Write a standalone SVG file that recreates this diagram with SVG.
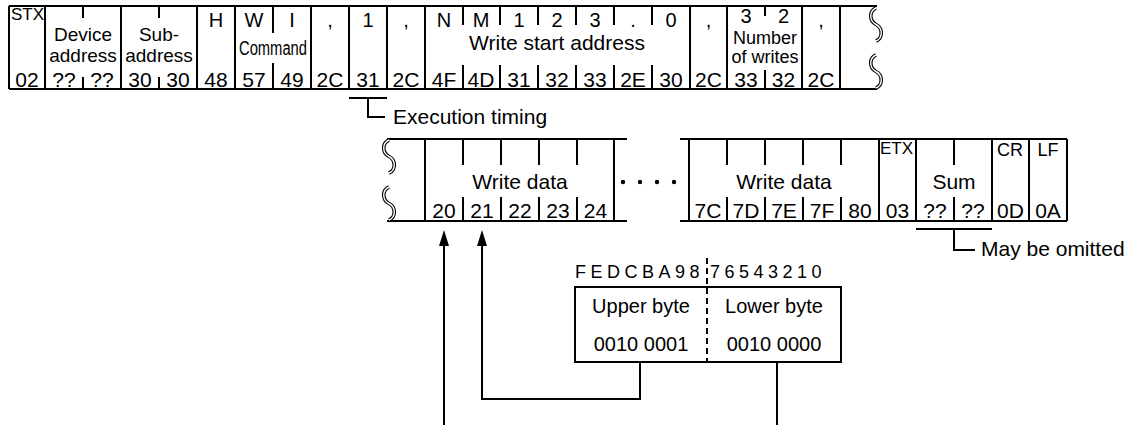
<svg xmlns="http://www.w3.org/2000/svg" width="1135" height="425" viewBox="0 0 1135 425">
<style>
text { font-family: "Liberation Sans", Arial, sans-serif; font-size: 20px; fill: #000; text-anchor: middle; }
.ln { stroke: #000; stroke-width: 2; fill: none; }
.sm { font-size: 17px; text-anchor: start; }
.lab { font-size: 21px; }
.hx { font-size: 21px; }
.st { text-anchor: start; }
.s18 { font-size: 18px; }
.s19 { font-size: 19px; }
.bits { font-size: 18px; text-anchor: start; letter-spacing: 4.5px; }
.sq1 { stroke: #000; stroke-width: 3.6; fill: none; }
.sq2 { stroke: #fff; stroke-width: 1.4; fill: none; }
.dash { stroke-dasharray: 6 4; }
</style>
<defs>
<path id="wave" d="M0,0 C-7,3 -7,13 0,16.5 C7,20 7,30 0,33"/>
<marker id="ah" viewBox="0 0 16 10" refX="10" refY="5" markerWidth="16" markerHeight="10" markerUnits="userSpaceOnUse" orient="auto">
<path d="M0,0 L16,5 L0,10 Z" fill="#000"/>
</marker>
</defs>
<rect width="1135" height="425" fill="#fff"/>

<g id="frame-header">
<path class="ln" d="M9,6 H877 M9,89 H877"/>
<path class="ln" d="M9,6 V89 M45,6 V89 M121,6 V89 M197,6 V89 M235,6 V89 M311,6 V89 M349,6 V89 M387,6 V89 M425,6 V89 M690,6 V89 M727,6 V89 M802,6 V89 M840,6 V89"/>
<path class="ln" d="M83,6 V18 M83,77 V89 M159,6 V18 M159,77 V89 M273,6 V33 M273,63 V89 M463,6 V25 M463,65 V89 M500,6 V25 M500,65 V89 M538,6 V25 M538,65 V89 M576,6 V25 M576,65 V89 M614,6 V25 M614,65 V89 M652,6 V25 M652,65 V89 M765,6 V16 M765,70 V89"/>
<use href="#wave" class="sq1" x="876" y="8"/><use href="#wave" class="sq2" x="876" y="8"/>
<use href="#wave" class="sq1" x="876" y="55"/><use href="#wave" class="sq2" x="876" y="55"/>
<text class="sm" x="11" y="20">STX</text>
<text class="s19" x="83" y="41">Device</text><text class="s19" x="83" y="62">address</text>
<text class="s19" x="159" y="41">Sub-</text><text class="s19" x="159" y="62">address</text>
<text x="216" y="27">H</text><text x="254" y="27">W</text><text x="292" y="27">I</text>
<text x="273" y="55" font-size="18" textLength="68" lengthAdjust="spacingAndGlyphs">Command</text>
<text x="330" y="27">,</text><text x="368" y="27">1</text><text x="406" y="27">,</text>
<text x="444" y="27">N</text><text x="481" y="27">M</text><text x="519" y="27">1</text><text x="557" y="27">2</text><text x="595" y="27">3</text><text x="633" y="27">.</text><text x="671" y="27">0</text><text x="708.5" y="27">,</text><text x="746" y="23">3</text><text x="783.5" y="23">2</text><text x="821" y="27">,</text>
<text class="lab" x="557" y="50">Write start address</text>
<text class="s18" x="765" y="44">Number</text><text class="s18" x="765" y="63">of writes</text>
<g class="hx">
<text class="hx" x="27" y="87">02</text><text class="hx" x="64" y="87">??</text><text class="hx" x="102" y="87">??</text><text class="hx" x="140" y="87">30</text><text class="hx" x="178" y="87">30</text><text class="hx" x="216" y="87">48</text><text class="hx" x="254" y="87">57</text><text class="hx" x="292" y="87">49</text><text class="hx" x="330" y="87">2C</text><text class="hx" x="368" y="87">31</text><text class="hx" x="406" y="87">2C</text><text class="hx" x="444" y="87">4F</text><text class="hx" x="481" y="87">4D</text><text class="hx" x="519" y="87">31</text><text class="hx" x="557" y="87">32</text><text class="hx" x="595" y="87">33</text><text class="hx" x="633" y="87">2E</text><text class="hx" x="671" y="87">30</text><text class="hx" x="708.5" y="87">2C</text><text class="hx" x="746" y="87">33</text><text class="hx" x="783.5" y="87">32</text><text class="hx" x="821" y="87">2C</text>
</g>
</g>

<g id="exec-timing">
<path class="ln" d="M349,98 H387 M368,98 V117 H385"/>
<text class="lab st" x="393" y="124">Execution timing</text>
</g>

<g id="frame-data-left">
<path class="ln" d="M387,139 H627 M387,221 H627 M425,139 V221 M614,139 V221"/>
<path class="ln" d="M463,139 V165 M463,197 V221 M501,139 V165 M501,197 V221 M539,139 V165 M539,197 V221 M577,139 V165 M577,197 V221"/>
<use href="#wave" class="sq1" x="389" y="140"/><use href="#wave" class="sq2" x="389" y="140"/>
<use href="#wave" class="sq1" x="389" y="187"/><use href="#wave" class="sq2" x="389" y="187"/>
<text class="lab" x="520" y="189">Write data</text>
<text class="hx" x="444" y="218">20</text><text class="hx" x="482" y="218">21</text><text class="hx" x="520" y="218">22</text><text class="hx" x="558" y="218">23</text><text class="hx" x="595.5" y="218">24</text>
</g>

<g id="ellipsis">
<circle cx="623" cy="182" r="2.2"/><circle cx="640" cy="182" r="2.2"/><circle cx="657" cy="182" r="2.2"/><circle cx="674" cy="182" r="2.2"/>
</g>

<g id="frame-data-right">
<path class="ln" d="M680,139 H1067 M680,221 H1067 M689,139 V221 M879,139 V221 M916,139 V221 M992,139 V221 M1029,139 V221 M1067,139 V221"/>
<path class="ln" d="M727,139 V165 M727,197 V221 M765,139 V165 M765,197 V221 M803,139 V165 M803,197 V221 M841,139 V165 M841,197 V221 M954,139 V165 M954,197 V221"/>
<text class="lab" x="784" y="189">Write data</text>
<text class="sm" x="880" y="154" font-size="16">ETX</text>
<text class="lab" x="954" y="189">Sum</text>
<text class="s18" x="1010" y="156">CR</text><text class="s18" x="1048" y="156">LF</text>
<text class="hx" x="708" y="218">7C</text><text class="hx" x="746" y="218">7D</text><text class="hx" x="784" y="218">7E</text><text class="hx" x="822" y="218">7F</text><text class="hx" x="860" y="218">80</text><text class="hx" x="897.5" y="218">03</text><text class="hx" x="935" y="218">??</text><text class="hx" x="973" y="218">??</text><text class="hx" x="1010.5" y="218">0D</text><text class="hx" x="1048" y="218">0A</text>
</g>

<g id="may-omit">
<path class="ln" d="M916,229 H992 M954,229 V250 H975"/>
<text class="lab st" x="981" y="256">May be omitted</text>
</g>

<g id="byte-box">
<rect class="ln" x="575" y="287" width="266" height="75"/>
<path class="ln dash" d="M707,258 V362"/>
<text class="bits" x="575" y="278">FEDCBA98</text>
<text class="bits" x="710" y="278">76543210</text>
<text x="641" y="313">Upper byte</text><text x="774" y="313">Lower byte</text>
<text x="641" y="351">0010 0001</text><text x="774" y="351">0010 0000</text>
</g>

<g id="connectors">
<path class="ln" d="M444,425 V236" marker-end="url(#ah)"/>
<path class="ln" d="M640,362 V399 H482 V236" marker-end="url(#ah)"/>
<path class="ln" d="M777,362 V425"/>
</g>
</svg>
